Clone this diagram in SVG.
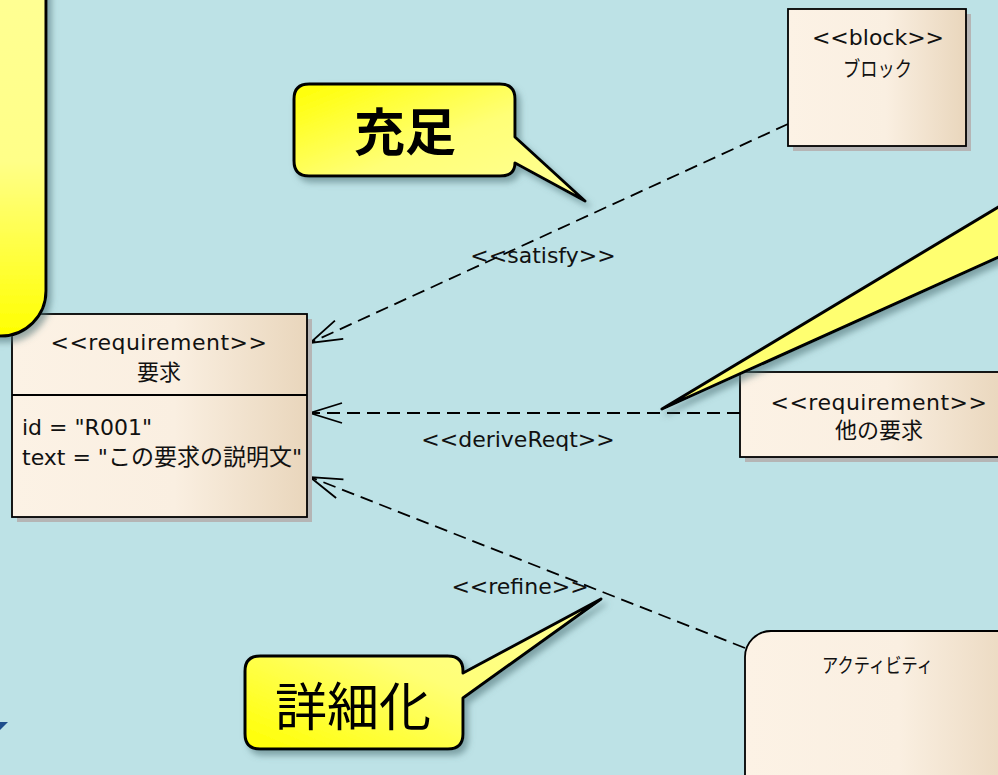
<svg xmlns="http://www.w3.org/2000/svg" width="998" height="775" viewBox="0 0 998 775">
<defs>
<linearGradient id="nodeFill" x1="0" y1="0" x2="1" y2="0">
<stop offset="0" stop-color="#FCF2E5"/>
<stop offset="0.55" stop-color="#FAEFE1"/>
<stop offset="1" stop-color="#E9D6BC"/>
</linearGradient>
<linearGradient id="calloutA" x1="0" y1="0" x2="1" y2="1">
<stop offset="0" stop-color="#FFFF00"/>
<stop offset="0.5" stop-color="#FFFF77"/>
<stop offset="1" stop-color="#FFFF99"/>
</linearGradient>
<linearGradient id="calloutB" x1="0" y1="1" x2="1" y2="0">
<stop offset="0" stop-color="#FFFF00"/>
<stop offset="0.5" stop-color="#FFFF77"/>
<stop offset="1" stop-color="#FFFF99"/>
</linearGradient>
<linearGradient id="calloutBig" x1="0" y1="0" x2="0" y2="1">
<stop offset="0" stop-color="#FFFF99"/>
<stop offset="0.6" stop-color="#FFFF88"/>
<stop offset="1" stop-color="#FFFF00"/>
</linearGradient>
<filter id="soft" x="-20%" y="-20%" width="150%" height="150%">
<feGaussianBlur in="SourceAlpha" stdDeviation="3"/>
<feOffset dx="4" dy="5" result="b"/>
<feFlood flood-color="#4A6E72" flood-opacity="0.55"/>
<feComposite in2="b" operator="in"/>
<feMerge><feMergeNode/><feMergeNode in="SourceGraphic"/></feMerge>
</filter>
<path id="arrowHead" d="M32 -10 L0 0 L32 10" fill="none" stroke="#000" stroke-width="1.8" stroke-linejoin="miter"/>
<style>
.node{fill:url(#nodeFill);stroke:#000;stroke-width:1.8}
.shadow{fill:#B5B5B5}
.t{font-family:"DejaVu Sans","Noto Sans CJK JP",sans-serif;fill:#111;font-size:22px}
.j{font-family:"Noto Sans CJK JP",sans-serif;fill:#111}
.c{text-anchor:middle}
.conn{fill:none;stroke:#000;stroke-width:1.8;stroke-dasharray:13 7}
.callout{stroke:#000;stroke-width:3;stroke-linejoin:round}
</style>
</defs>
<rect width="998" height="775" fill="#BDE2E6"/>

<g id="connectors">
<line class="conn" x1="788" y1="124" x2="310" y2="343"/>
<use href="#arrowHead" transform="translate(310,343) rotate(-24.6)"/>
<line class="conn" x1="740" y1="413" x2="310" y2="413"/>
<use href="#arrowHead" transform="translate(310,413)"/>
<line class="conn" x1="745" y1="648" x2="310" y2="477"/>
<use href="#arrowHead" transform="translate(310,477) rotate(21.5)"/>
<text class="t c" x="543" y="263">&lt;&lt;satisfy&gt;&gt;</text>
<text class="t c" x="518" y="447">&lt;&lt;deriveReqt&gt;&gt;</text>
<text class="t c" x="520" y="594">&lt;&lt;refine&gt;&gt;</text>
</g>

<g id="req">
<rect class="shadow" x="17" y="319" width="295" height="203"/>
<rect class="node" x="12" y="314" width="295" height="203"/>
<line x1="12" y1="395" x2="307" y2="395" stroke="#000" stroke-width="1.8"/>
<text class="t c" x="159" y="350" letter-spacing="0.5">&lt;&lt;requirement&gt;&gt;</text>
<text class="j c" x="159" y="380" font-size="22">要求</text>
<text class="t" x="22" y="435">id = "R001"</text>
<text class="t" x="22" y="465">text = "<tspan font-family="Noto Sans CJK JP, sans-serif" font-size="23">この要求の説明文</tspan>"</text>
</g>

<g id="block">
<rect class="shadow" x="793" y="14" width="178" height="137"/>
<rect class="node" x="788" y="9" width="178" height="137"/>
<text class="t c" x="878" y="45">&lt;&lt;block&gt;&gt;</text>
<text class="j" x="843" y="76" font-size="21" textLength="69" lengthAdjust="spacingAndGlyphs">ブロック</text>
</g>

<g id="otherReq">
<rect class="shadow" x="745" y="377" width="260" height="85"/>
<rect class="node" x="740" y="372" width="266" height="85"/>
<text class="t c" x="879" y="410" letter-spacing="0.5">&lt;&lt;requirement&gt;&gt;</text>
<text class="j c" x="879" y="438" font-size="22">他の要求</text>
</g>

<g id="activity">
<rect class="node" x="745" y="631" width="280" height="170" rx="26"/>
<text class="j" x="822" y="673" font-size="20" textLength="111" lengthAdjust="spacingAndGlyphs">アクティビティ</text>
</g>

<g id="calloutBigLeft" filter="url(#soft)">
<rect class="callout" x="-200" y="-100" width="246" height="436" rx="45" fill="url(#calloutBig)"/>
</g>

<g id="calloutRight" filter="url(#soft)">
<path class="callout" d="M1010 200 L662 409 L1010 252 Z" fill="#FFFF70"/>
</g>

<g id="calloutSatisfy" filter="url(#soft)">
<path class="callout" d="M309 84 H500 Q515 84 515 99 V137 L585 201 L515 163 Q515 176 500 176 H309 Q294 176 294 161 V99 Q294 84 309 84 Z" fill="url(#calloutA)"/>
<text class="c" x="405" y="151" font-size="51" font-weight="bold" font-family="Noto Sans CJK JP, sans-serif" fill="#000">充足</text>
</g>

<g id="calloutRefine" filter="url(#soft)">
<path class="callout" d="M260 656 H448 Q463 656 463 671 V673 L601 599 L463 698 V734 Q463 749 448 749 H260 Q245 749 245 734 V671 Q245 656 260 656 Z" fill="url(#calloutB)"/>
<text class="c" x="353" y="726" font-size="52" font-family="Noto Sans CJK JP, sans-serif" fill="#000">詳細化</text>
</g>

<polygon points="0,722 8,722 0,730" fill="#1F4E8C"/>
</svg>
